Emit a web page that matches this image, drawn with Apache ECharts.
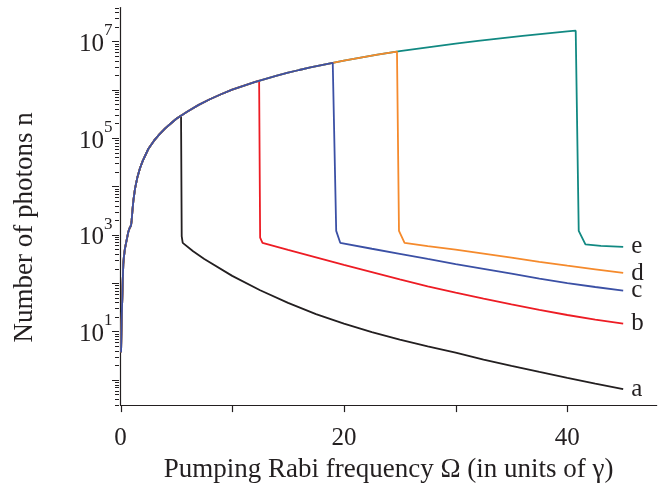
<!DOCTYPE html>
<html>
<head>
<meta charset="utf-8">
<script src="https://cdn.jsdelivr.net/npm/echarts@6/dist/echarts.min.js"></script>
<style>
html,body{margin:0;padding:0;background:#fff;}
#chart{width:662px;height:488px;}
</style>
</head>
<body>
<div id="chart"></div>
<script>
// ---- Data ----
// Shared rising branch (all curves follow it until they drop)
const envOmega = [0.05,0.08,0.12,0.16,0.2,0.25,0.3,0.4,0.5,0.6,0.7,0.82,0.94,1.0,1.06,1.15,1.3,1.5,1.75,2.0,2.5,3.0,3.5,4.0,4.5,5.0,6,7,8,9,10,11,12,13,14,15,16,17,18,19,20,21,22,23,24,25,26,28,30,32,34,36,38,40];
const envN = [3.7,9,24,48,110,245,340,520,680,880,1150,1380,1550,2000,3000,5000,9000,15000,24000,34000,60000,88000,120000,158000,200000,250000,355000,485000,635000,805000,1000000,1200000,1430000,1680000,1950000,2240000,2550000,2880000,3230000,3600000,4000000,4400000,4830000,5280000,5750000,6240000,6750000,7800000,8950000,10200000,11500000,12900000,14400000,16000000];

// Falling branches (from the drop point onwards)
const aOmega = [5.42,5.48,5.57,6.5,7.5,10,12.5,15,17.5,20,22.5,25,27.5,30,32.5,35,37.5,40,42.5,45];
const aN = [292000,930,680,457,316,141,71,39,22.9,14.5,9.7,6.8,4.9,3.63,2.63,1.95,1.46,1.10,0.836,0.645];
const bOmega = [12.41,12.5,12.71,15,17.5,20,22.5,25,27.5,30,32.5,35,37.5,40,42.5,45];
const bN = [1530000,870,680,484,339,237,168,119,86,63.8,47.9,36.3,27.9,21.9,17.6,14.5];
const cOmega = [19.16,19.31,19.67,22.5,25,27.5,30,32.5,35,37.5,40,42.5,45];
const cN = [3660000,1200,680,513,403,316,248,197,157,124,100,83,70];
const dOmega = [24.75,24.93,25.43,27.5,30,32.5,35,37.5,40,42.5,45];
const dN = [6120000,1200,680,582,490,407,335,275,229,193,162];
const eOmega = [40.75,41.02,41.62,43,45];
const eN = [16600000,1200,630,590,560];

const curveNames = ['a','b','e','d','c'];
const curveColors = {a:'#231f20', b:'#ed1c24', c:'#3b50a5', d:'#f58a2c', e:'#118982'};

// Axis ticks
const xTickValues = [0, 10, 20, 30, 40];
const xTickLabels = [0, 20, 40];
const yLabelExponents = [1, 3, 5, 7];
const yMajorDecades = [0,1,2,3,4,5,6,7];
const yMinorDecades = [-1,0,1,2,3,4,5,6,7];
const yMinorMultipliers = [2,3,4,5,6,7,8,9];
const yMin = 0.3, yMax = 5e7;

const FONT = 'Liberation Serif';
const INK = '#231f20';

function buildCurve(om, n) {
  const pts = [];
  for (let i = 0; i < envOmega.length; i++) {
    if (envOmega[i] < om[0]) pts.push([envOmega[i], envN[i]]);
  }
  for (let i = 0; i < om.length; i++) pts.push([om[i], n[i]]);
  return pts;
}
const curveData = {
  a: buildCurve(aOmega, aN),
  b: buildCurve(bOmega, bN),
  c: buildCurve(cOmega, cN),
  d: buildCurve(dOmega, dN),
  e: buildCurve(eOmega, eN)
};

// y tick list for custom drawing (log-spaced minor ticks)
const yTicks = [];
yMajorDecades.forEach(k => yTicks.push([0, Math.pow(10, k), 7]));
yMinorDecades.forEach(k => yMinorMultipliers.forEach(m => {
  const v = m * Math.pow(10, k);
  if (v >= yMin * 0.999 && v <= yMax * 1.001) yTicks.push([0, v, 4]);
}));
const xTicks = xTickValues.map(v => [v, yMin, 7]);

const series = curveNames.map(nm => ({
  name: nm,
  type: 'line',
  data: curveData[nm],
  showSymbol: false,
  symbol: 'none',
  smooth: false,
  lineStyle: {color: curveColors[nm], width: 1.8},
  itemStyle: {color: curveColors[nm]},
  endLabel: {
    show: true,
    formatter: nm,
    fontFamily: FONT,
    fontSize: 25,
    color: INK,
    distance: 8
  },
  animation: false
}));

series.push({
  type: 'custom',
  coordinateSystem: 'cartesian2d',
  silent: true,
  clip: false,
  z: 10,
  data: yTicks,
  renderItem: function (params, api) {
    const p = api.coord([0, api.value(1)]);
    const len = api.value(2);
    const x0 = Math.round(p[0]) - 2;
    const y = Math.round(p[1]) + 0.5;
    return {
      type: 'line',
      shape: {x1: x0 - len, y1: y, x2: x0, y2: y},
      style: {stroke: INK, lineWidth: 1}
    };
  },
  animation: false
});

series.push({
  type: 'custom',
  coordinateSystem: 'cartesian2d',
  silent: true,
  clip: false,
  z: 10,
  data: xTicks,
  renderItem: function (params, api) {
    const p = api.coord([api.value(0), yMin]);
    const len = api.value(2);
    const x = Math.round(p[0]) + 0.5;
    const y0 = p[1];
    return {
      type: 'line',
      shape: {x1: x, y1: y0, x2: x, y2: y0 + len},
      style: {stroke: INK, lineWidth: 1.2}
    };
  },
  animation: false
});

const chart = echarts.init(document.getElementById('chart'), null, {renderer: 'canvas'});
chart.setOption({
  animation: false,
  backgroundColor: '#fff',
  grid: {left: 120.5, right: 5.3, top: 7.5, bottom: 82.3, containLabel: false},
  xAxis: {
    type: 'value',
    min: 0,
    max: 48,
    interval: 10,
    name: 'Pumping Rabi frequency \u03a9 (in units of \u03b3)',
    nameLocation: 'middle',
    nameGap: 48,
    nameTextStyle: {fontFamily: FONT, fontSize: 27, color: INK},
    axisLine: {lineStyle: {color: INK, width: 1.2}},
    axisTick: {show: false},
    axisLabel: {
      margin: 21,
      fontFamily: FONT,
      fontSize: 25,
      color: INK,
      formatter: v => (xTickLabels.indexOf(v) >= 0 ? String(v) : '')
    },
    splitLine: {show: false}
  },
  yAxis: {
    type: 'log',
    logBase: 10,
    min: yMin,
    max: yMax,
    splitNumber: 10,
    offset: 2,
    name: 'Number of photons n',
    nameLocation: 'middle',
    nameRotate: 90,
    nameGap: 80,
    nameTextStyle: {fontFamily: FONT, fontSize: 27, color: INK, padding: [0, 42, 0, 0]},
    axisLine: {show: true, lineStyle: {color: INK, width: 1.2}},
    axisTick: {show: false},
    minorTick: {show: false},
    splitLine: {show: false},
    axisLabel: {
      margin: 6,
      color: INK,
      formatter: function (v) {
        const l = Math.log10(v);
        const e = Math.round(l);
        if (Math.abs(l - e) > 1e-6) return '';
        if (yLabelExponents.indexOf(e) < 0) return '';
        return '{b|10}{s|' + e + '}';
      },
      rich: {
        b: {fontFamily: FONT, fontSize: 25, color: INK, padding: [6, 0, 0, 0]},
        s: {fontFamily: FONT, fontSize: 17, color: INK, padding: [0, 0, 21, 0]}
      }
    }
  },
  series: series
});
</script>
</body>
</html>
